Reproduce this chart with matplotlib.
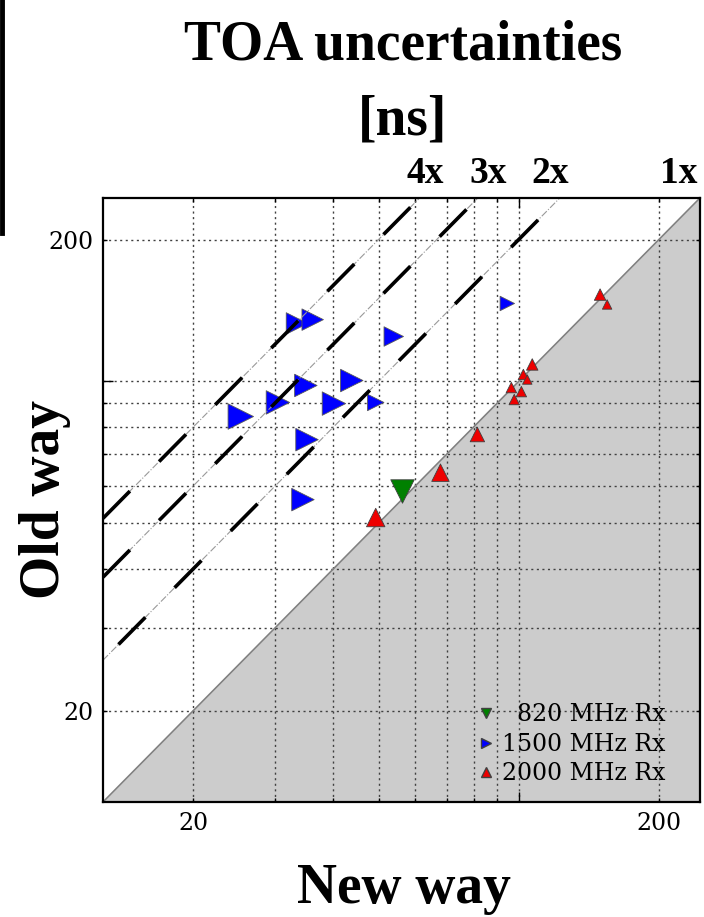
import matplotlib
matplotlib.use("Agg")
import matplotlib.pyplot as plt
from matplotlib.lines import Line2D
import numpy as np

# TOA uncertainties [ns]: new way (x) against old way (y), one list per receiver
rx820_new = [56.1]
rx820_old = [58.6]
rx820_size = [24]

rx1500_new = [33.4, 36.1, 53.9, 34.9, 43.8, 30.4, 40.1, 49.3, 25.3, 35.1, 34.4, 94.5]
rx1500_old = [132.7, 135.2, 124.5, 98.0, 100.4, 90.2, 89.7, 90.2, 84.2, 75.2, 56.1, 146.3]
rx1500_size = [22, 22, 20, 23, 23, 24, 24, 17, 26, 23, 23, 15]

rx2000_new = [149.5, 154.8, 106.9, 102.3, 104.3, 96.4, 101.3, 97.8, 81.5, 67.9, 49.3]
rx2000_old = [152.8, 145.6, 108.6, 103.4, 100.9, 97.0, 95.1, 91.5, 77.1, 64.0, 51.4]
rx2000_size = [12, 10, 12, 11, 10, 11, 11, 11, 15, 18, 19]

ratios = [4, 3, 2]
ratio_labels = ['4x', '3x', '2x', '1x']
ratio_label_x = [63, 86, 117, 221]   # where the labels sit above the axes

lims = (12.8, 245)
serif_big = 'Liberation Serif'
serif_small = 'DejaVu Serif'


def area(px):
    # marker size given as pixel height of the triangle -> scatter area in pt^2
    return (np.array(px) * 0.72 - 0.4) ** 2


fig = plt.figure(figsize=(7.04, 9.17), dpi=100)
ax = fig.add_axes([0.1463, 0.1254, 0.848, 0.6587])
ax.set_xscale('log')
ax.set_yscale('log')
ax.set_xlim(lims)
ax.set_ylim(lims)

# shaded region below 1:1
xx = np.array(lims)
ax.fill_between(xx, lims[0], xx, color='#cccccc', zorder=0, linewidth=0)
ax.plot(xx, xx, color='0.5', lw=1.2, zorder=1)

# ratio lines
offsets = [0, 0, 16]
for k, off in zip(ratios, offsets):
    ax.plot(xx, k * xx, color='0.6', lw=0.8, linestyle='-.', zorder=1.8)
    ax.plot(xx, k * xx, color='k', lw=2.6, linestyle=(off, (10.6, 11.5)), zorder=2)

ax.scatter(rx820_new, rx820_old, s=area(rx820_size), marker='v', color='green',
           edgecolor='0.25', linewidth=0.6, zorder=1.5)
ax.scatter(rx1500_new, rx1500_old, s=area(rx1500_size), marker='>', color='blue',
           edgecolor='0.35', linewidth=0.6, zorder=1.5)
ax.scatter(rx2000_new, rx2000_old, s=area(rx2000_size), marker='^', color='#ee0000',
           edgecolor='0.25', linewidth=0.6, zorder=1.5)

# ticks: major at 100 unlabeled, minor 20..90 and 200 with 20 / 200 labelled
minor = [20, 30, 40, 50, 60, 70, 80, 90, 200]
minor_lbl = ['20', '', '', '', '', '', '', '', '200']
for axis in (ax.xaxis, ax.yaxis):
    axis.set_ticks([100], labels=[''])
    axis.set_ticks(minor, labels=minor_lbl, minor=True)
ax.tick_params(which='both', direction='in', top=True, right=True, pad=7,
               labelsize=17, width=1)
ax.tick_params(which='major', length=7)
ax.tick_params(which='minor', length=3)
for lab in ax.get_xticklabels(which='both') + ax.get_yticklabels(which='both'):
    lab.set_family(serif_small)

ax.set_axisbelow(True)
ax.grid(True, which='both', color='0.25', lw=1, linestyle=(0, (1.5, 2.5)))
for sp in ax.spines.values():
    sp.set_linewidth(1.6)

handles = [Line2D([], [], marker='v', color='green', mec='0.25', ls='none', ms=6.5),
           Line2D([], [], marker='>', color='blue', mec='0.25', ls='none', ms=6.5),
           Line2D([], [], marker='^', color='#ee0000', mec='0.25', ls='none', ms=6.5)]
ax.legend(handles, ['  820 MHz Rx', '1500 MHz Rx', '2000 MHz Rx'], loc='lower right',
          bbox_to_anchor=(0.970, 0.0), frameon=False,
          prop={'family': serif_small, 'size': 17}, handlelength=1.0,
          handletextpad=0.2, labelspacing=0.28, borderaxespad=0.3)

# ratio labels above the frame
for lbl, xp in zip(ratio_labels, ratio_label_x):
    ax.text(xp, 1.040, lbl, transform=ax.get_xaxis_transform(), ha='center', va='center',
            family=serif_big, weight='bold', fontsize=27)

fig.text(0.572, 0.935, 'TOA uncertainties', ha='center', va='baseline',
         family=serif_big, weight='bold', fontsize=40)
fig.text(0.572, 0.853, '[ns]', ha='center', va='baseline',
         family=serif_big, weight='bold', fontsize=40)
fig.text(0.574, 0.0153, 'New way', ha='center', va='baseline',
         family=serif_big, weight='bold', fontsize=40)
fig.text(0.064, 0.455, 'Old way', ha='center', va='center', rotation=90,
         family=serif_big, weight='bold', fontsize=40)

# black bar on the left edge
fig.add_artist(Line2D([0.003, 0.003], [1.0, 1 - 233 / 917], color='k', lw=3.5))

fig.savefig('out.png', dpi=100)
